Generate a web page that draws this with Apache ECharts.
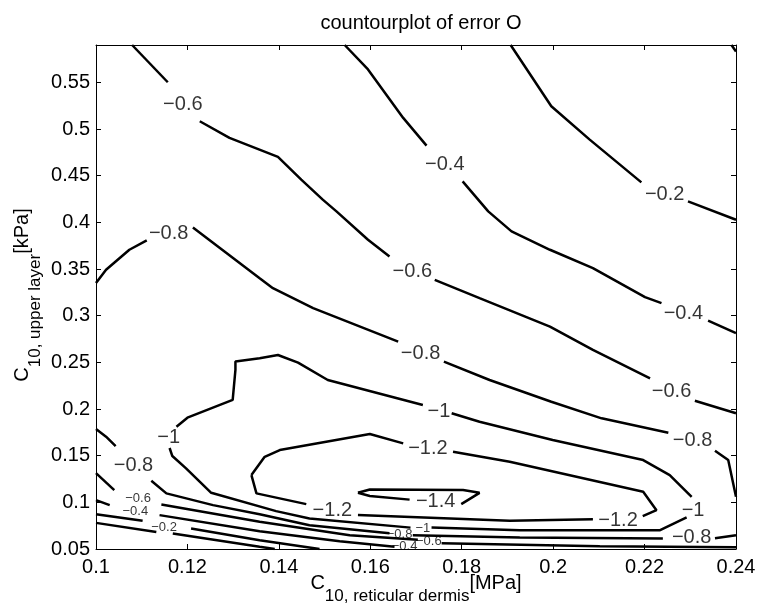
<!DOCTYPE html>
<html><head><meta charset="utf-8">
<script src="https://cdn.jsdelivr.net/npm/echarts@6/dist/echarts.min.js"></script>
<style>html,body{margin:0;padding:0;background:#fff}#c{width:757px;height:606px}</style>
</head><body><div id="c"></div>
<script>
// ---------- data ----------
const chartTitle = 'countourplot of error O';
const xRange = [0.1, 0.24];
const xStep = 0.02;
const yRange = [0.05, 0.59];
const yStep = 0.05;

// contour lines: [x, y] points, null = gap left for an inline label
const contour_0_corner = [[0.2390,0.59],[0.2400,0.5831]];
const contour_m02_upper = [[0.1907,0.59],[0.1996,0.5244],[0.2080,0.4886],[0.2193,0.4428],null,[0.2295,0.4224],[0.2400,0.4028]];
const contour_m04_upper = [[0.1544,0.59],[0.1595,0.5638],[0.1672,0.5119],[0.1723,0.4822],null,[0.1802,0.4439],[0.1858,0.4117],[0.1909,0.3903],[0.1993,0.3706],[0.2087,0.3510],[0.2201,0.3199],[0.2237,0.3134],null,[0.2339,0.2948],[0.2400,0.2812]];
const contour_m06_upper = [[0.1079,0.59],[0.1157,0.5501],null,[0.1227,0.5083],[0.1292,0.4905],[0.1398,0.4701],[0.1449,0.4457],[0.1496,0.4243],[0.1526,0.4117],[0.1595,0.3813],[0.1642,0.3634],null,[0.1741,0.3384],[0.1839,0.3188],[0.1993,0.2883],[0.2087,0.2633],[0.2212,0.2329],null,[0.2310,0.2089],[0.2400,0.1954]];
const contour_m08_upper = [[0.1000,0.3349],[0.1022,0.3492],[0.1073,0.3706],[0.1111,0.3806],null,[0.1212,0.3945],[0.1358,0.3402],[0.1387,0.3295],[0.1475,0.3081],[0.1661,0.2722],null,[0.1761,0.2508],[0.1861,0.2311],[0.1996,0.2078],[0.2106,0.1900],[0.2252,0.1746],null,[0.2354,0.1553],[0.2383,0.1453],[0.2400,0.1059]];
const contour_m10_loop = [[0.1161,0.1582],[0.1167,0.1496],[0.1197,0.1364],[0.1252,0.1102],[0.1394,0.0906],[0.1467,0.0827],[0.1688,0.0729],null,[0.1734,0.0731],[0.1927,0.0702],[0.2234,0.0702],[0.2292,0.0838],null,[0.2303,0.1059],[0.2255,0.1292],[0.2197,0.1453],[0.1999,0.1667],[0.1839,0.1864],[0.1778,0.1954],null,[0.1715,0.2043],[0.1507,0.2311],[0.1442,0.2497],[0.1398,0.2579],[0.1358,0.2544],[0.1305,0.2508],[0.1305,0.2419],[0.1299,0.2097],[0.1200,0.1907],[0.1176,0.1810]];
const contour_m12_loop = [[0.1340,0.1292],[0.1369,0.1488],[0.1402,0.1560],[0.1599,0.1732],[0.1672,0.1632],null,[0.1781,0.1542],[0.1905,0.1435],[0.2197,0.1113],[0.2226,0.0916],[0.2196,0.0852],null,[0.2087,0.0820],[0.1905,0.0802],[0.1573,0.0863],null,[0.1460,0.0981],[0.1351,0.1096],[0.1340,0.1292]];
const contour_m14_loop = [[0.1573,0.1102],[0.1599,0.1138],[0.1803,0.1131],[0.1839,0.1102],[0.1799,0.0981],null,[0.1686,0.1029],[0.1599,0.1067],[0.1573,0.1102]];
const contour_m08_lower = [[0.1000,0.1785],[0.1022,0.1703],[0.1043,0.1603],null,[0.1121,0.1231],[0.1154,0.1096],[0.1256,0.0970],[0.1358,0.0873],[0.1467,0.0755],[0.1642,0.0670],null,[0.1693,0.0648],[0.1927,0.0623],[0.2240,0.0613],null,[0.2354,0.0616],[0.2400,0.0648]];
const contour_m06_lower = [[0.1000,0.1313],[0.1040,0.1131],null,[0.1143,0.0977],[0.1358,0.0791],[0.1555,0.0648],[0.1704,0.0600],null,[0.1756,0.0562],[0.2102,0.0530],[0.2400,0.0519]];
const contour_m04_lower = [[0.1000,0.1024],[0.1030,0.0970],null,[0.1139,0.0863],[0.1358,0.0690],[0.1533,0.0584],[0.1653,0.0525]];
const contour_m02_lower = [[0.1000,0.0873],[0.1102,0.0802],null,[0.1208,0.0720],[0.1358,0.0594],[0.1489,0.0500]];
const contour_0_lower = [[0.1000,0.0780],[0.1132,0.0683],null,[0.1168,0.0666],[0.1358,0.0523],[0.1391,0.0500]];

// inline contour labels: level, x, y
const bigLabelLevels = [-0.6,-0.4,-0.2,-0.8,-0.6,-0.4,-0.8,-0.6,-0.8,-1,-1.2,-1,-0.8,-1.4,-1.2,-1.2,-1,-0.8];
const bigLabelX = [0.1190,0.1763,0.2244,0.1159,0.1692,0.2285,0.1710,0.2259,0.2305,0.1750,0.1726,0.1159,0.1082,0.1743,0.1517,0.2142,0.2306,0.2303];
const bigLabelY = [0.5262,0.4622,0.4296,0.3885,0.3475,0.3019,0.2598,0.2188,0.1660,0.1971,0.1578,0.1694,0.1391,0.1005,0.0908,0.0809,0.0916,0.0621];
const smallLabelLevels = [-0.6,-0.4,-0.2,-0.8,-1,-0.6,-0.4];
const smallLabelX = [0.1092,0.1086,0.1149,0.1664,0.1715,0.1728,0.1675];
const smallLabelY = [0.1038,0.0898,0.0729,0.0657,0.0723,0.0586,0.0530];

// ---------- chart ----------
const FONT = 'Liberation Sans';
const contours = [contour_0_corner, contour_m02_upper, contour_m04_upper, contour_m06_upper, contour_m08_upper,
  contour_m10_loop, contour_m12_loop, contour_m14_loop, contour_m08_lower, contour_m06_lower,
  contour_m04_lower, contour_m02_lower, contour_0_lower];

function splitAtGaps(pts) {
  const out = []; let cur = [];
  pts.forEach(p => { if (p === null) { if (cur.length) out.push(cur); cur = []; } else cur.push(p); });
  if (cur.length) out.push(cur);
  return out;
}
const fmt = v => String(v).replace('-', '\u2212');

const series = [];
contours.forEach(c => splitAtGaps(c).forEach(seg => series.push({
  type: 'line', data: seg, symbol: 'none', showSymbol: false, silent: true,
  lineStyle: { color: '#000', width: 2.5 }, z: 2
})));
function labelSeries(levels, xs, ys, size) {
  return {
    type: 'scatter', silent: true, symbolSize: 0.1, z: 3,
    itemStyle: { color: 'rgba(0,0,0,0)' },
    data: levels.map((l, i) => [xs[i], ys[i], fmt(l)]),
    label: { show: true, position: 'inside', color: '#000', fontSize: size, fontFamily: FONT,
      formatter: p => p.value[2] }
  };
}
series.push(labelSeries(bigLabelLevels, bigLabelX, bigLabelY, 20));
series.push(labelSeries(smallLabelLevels, smallLabelX, smallLabelY, 13));

const axLine = { show: true, onZero: false, lineStyle: { color: '#000', width: 1 } };
const axTick = { show: true, inside: true, length: 5, lineStyle: { color: '#000', width: 1 } };
const nameRich = {
  m: { fontSize: 20, fontFamily: FONT, color: '#000' },
  s: { fontSize: 17, fontFamily: FONT, color: '#000', padding: [26, 0, 0, 0] }
};

const option = {
  animation: false,
  backgroundColor: '#fff',
  title: { text: chartTitle, left: 416, textAlign: 'center', top: 8,
    textStyle: { fontSize: 20, fontWeight: 'normal', color: '#000', fontFamily: FONT } },
  grid: { left: 96, right: 21, top: 45, bottom: 57, containLabel: false, outerBoundsMode: 'none' },
  xAxis: [
    { type: 'value', min: xRange[0], max: xRange[1], interval: xStep, position: 'bottom',
      axisLine: axLine, axisTick: axTick, splitLine: { show: false },
      axisLabel: { color: '#000', fontSize: 20, fontFamily: FONT, margin: 8 },
      name: '{m|C}{s|10, reticular dermis}{m|[MPa]}', nameLocation: 'middle', nameGap: 13,
      nameMoveOverlap: false,
      nameTextStyle: { rich: nameRich } },
    { type: 'value', min: xRange[0], max: xRange[1], interval: xStep, position: 'top',
      axisLine: axLine, axisTick: axTick, splitLine: { show: false }, axisLabel: { show: false } }
  ],
  yAxis: [
    { type: 'value', min: yRange[0], max: yRange[1], interval: yStep, position: 'left',
      axisLine: axLine, axisTick: axTick, splitLine: { show: false },
      axisLabel: { color: '#000', fontSize: 20, fontFamily: FONT, margin: 6, showMaxLabel: false },
      name: '{m|C}{s|10, upper layer}{m|[kPa]}', nameLocation: 'middle', nameGap: 52, nameRotate: 90,
      nameMoveOverlap: false,
      nameTextStyle: { rich: nameRich, padding: [0, 0, 0, 4] } },
    { type: 'value', min: yRange[0], max: yRange[1], interval: yStep, position: 'right',
      axisLine: axLine, axisTick: axTick, splitLine: { show: false }, axisLabel: { show: false } }
  ],
  series: series
};
const chart = echarts.init(document.getElementById('c'), null, { renderer: 'canvas' });
chart.setOption(option);
</script>
</body></html>
